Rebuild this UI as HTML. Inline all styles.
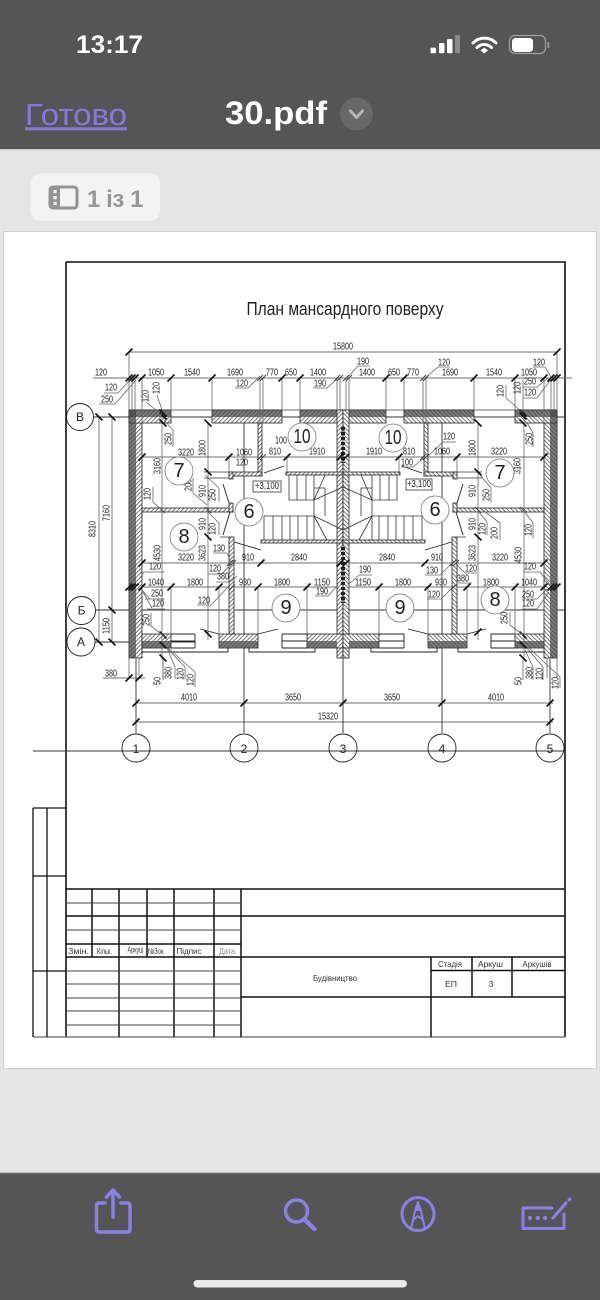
<!DOCTYPE html>
<html><head><meta charset="utf-8"><title>30.pdf</title>
<style>
html,body{margin:0;padding:0;background:#e5e5e5}
svg{display:block}
text{font-family:"Liberation Sans",sans-serif}
.d text{font-size:10px;fill:#222;text-anchor:middle;dominant-baseline:central}
.n text{font-size:20px;fill:#222;text-anchor:middle;dominant-baseline:central}
.a text{font-size:12px;fill:#222;text-anchor:middle;dominant-baseline:central}
.s text{font-size:8.5px;fill:#333;text-anchor:middle;dominant-baseline:central}
.plan{filter:blur(.3px)}
</style></head><body>
<svg width="600" height="1300" viewBox="0 0 600 1300" xmlns="http://www.w3.org/2000/svg">
<defs>
<pattern id="h" width="3" height="3" patternUnits="userSpaceOnUse" patternTransform="rotate(45)">
<rect width="3" height="3" fill="#fff"/><rect width="1" height="3" fill="#777"/></pattern>
<g id="half">
 <g fill="url(#h)" stroke="#222" stroke-width=".8">
  <rect x="129" y="410" width="13" height="248"/>
  <rect x="129" y="410" width="42" height="13"/>
  <rect x="212" y="410" width="70" height="13"/>
  <rect x="300" y="410" width="43" height="13"/>
  <rect x="337" y="410" width="6" height="237"/>
  <rect x="337" y="647" width="6" height="11"/>
  <rect x="142" y="634" width="29" height="14"/>
  <rect x="219" y="634" width="39" height="14"/>
  <rect x="307" y="634" width="36" height="14"/>
  <rect x="142" y="508" width="91" height="4"/>
  <rect x="258" y="423" width="4" height="53"/>
  <rect x="229" y="472" width="33" height="4"/>
  <rect x="229" y="472" width="4" height="7"/>
  <rect x="229" y="503" width="4" height="9"/>
  <rect x="229" y="537" width="5" height="97"/>
  <rect x="261" y="540" width="82" height="3"/>
  <rect x="286" y="472" width="57" height="3"/>
 </g>
 <g fill="#444"><rect x="129" y="410" width="7" height="248" fill-opacity=".7"/>
  <rect x="129" y="410" width="42" height="7" fill-opacity=".7"/>
  <rect x="212" y="410" width="70" height="7" fill-opacity=".7"/>
  <rect x="300" y="410" width="37" height="7" fill-opacity=".7"/>
  <rect x="142" y="641" width="29" height="7" fill-opacity=".7"/>
  <rect x="219" y="641" width="39" height="7" fill-opacity=".7"/>
  <rect x="307" y="641" width="30" height="7" fill-opacity=".7"/>
 </g>
 <path fill="none" stroke="#222" stroke-width=".9" d="M171 634H195M171 641H195M171 648H195M195 634V648M282 634V648M282 634H307M282 641H307M282 648H307M141 652H228V648M249 648V652H315V648M264 473L284 466M223 484L229 503M230 512L223 535M234 542L261 550M258 634L278 629M200 629L219 634"/>
 <path fill="none" stroke="#333" stroke-width=".8" d="M289 475V500H314M297 475V500M306 475V500M314 475V500M325 475L314 500L343 487M314 488H325V516M314 500V516M264 516H314V540M264 516V540M273 516V540M282 516V540M290 516V540M298 516V540M307 516V540M314 516L327 540M314 516L343 530M204 472H229M204 478H229M220 537H230"/>
 <path fill="none" stroke="#666" stroke-width=".8" d="M129 352V410M129 378V410M132 378V410M135 378V410M142 378V423M171 378V410M212 378V410M260 378V423M263 378V423M282 378V410M300 378V410M337 378V410M340 378V410M229 457V472M287 457V472M171 587V634M219 587V634M258 587V634M307 587V634M162 410V660M208 423V640M129 658V678M139 658V678M163 660V680"/>
 <path fill="none" stroke="#222" stroke-width="4" stroke-dasharray="3 2" d="M343 427V463M343 547V603" />
</g>
</defs>

<rect width="600" height="1300" fill="#e5e5e5"/>
<rect width="600" height="149" fill="#555"/>
<rect y="149" width="600" height="1.5" fill="#cfcfcf"/>
<rect y="1173" width="600" height="127" fill="#555"/>
<rect y="1172" width="600" height="1.2" fill="#bbb"/>
<rect x="3" y="231" width="594" height="838" fill="#d0d0d0"/>
<rect x="4" y="232" width="592" height="836" fill="#fff"/>

<!-- status bar -->
<text x="76" y="53" font-size="25" font-weight="bold" fill="#fff" textLength="67" lengthAdjust="spacingAndGlyphs">13:17</text>
<g fill="#fff"><rect x="430.5" y="47.6" width="5.5" height="5.7" rx="1.2"/><rect x="439" y="43" width="5.5" height="10.3" rx="1.2"/><rect x="447" y="39" width="5.5" height="14.3" rx="1.2"/></g>
<rect x="455" y="35" width="5" height="18.3" rx="1.2" fill="#8a8a8a"/>
<g fill="none" stroke="#fff" stroke-width="3" stroke-linecap="round"><path d="M473 43C479 36.5 490 36.5 496 43"/><path d="M477 47.500C481 43.500 487 43.500 491.500 47.500"/></g>
<path d="M480.500 50.200L484.200 47.800L488 50.200L484.200 53.600Z" fill="#fff"/>
<rect x="509.5" y="35.5" width="36" height="18" rx="5.5" fill="none" stroke="#a0a0a0" stroke-width="1.2"/>
<rect x="512" y="38" width="21" height="14" rx="3.5" fill="#fff"/>
<rect x="547.5" y="42" width="1.6" height="6" rx=".8" fill="#a0a0a0"/>

<!-- nav -->
<text x="25" y="125" font-size="31" fill="#8679dc" textLength="102" lengthAdjust="spacingAndGlyphs">Готово</text>
<rect x="25" y="127.3" width="102" height="3" fill="#8679dc"/>
<text x="225" y="124" font-size="32" font-weight="bold" fill="#fff" textLength="102" lengthAdjust="spacingAndGlyphs">30.pdf</text>
<circle cx="356.5" cy="114" r="16.5" fill="#686868"/>
<path d="M350.5 111L356.5 117.5L362.5 111" fill="none" stroke="#b5b5b5" stroke-width="3" stroke-linecap="round" stroke-linejoin="round"/>

<!-- page pill -->
<rect x="30.5" y="173.5" width="129.5" height="47.5" rx="10" fill="#f3f3f3"/>
<rect x="50" y="187" width="27" height="21" rx="3" fill="none" stroke="#939393" stroke-width="3"/>
<rect x="50" y="187" width="10" height="21" fill="#939393"/>
<g fill="#f3f3f3"><rect x="53.5" y="190" width="3.2" height="3.2"/><rect x="53.5" y="196" width="3.2" height="3.2"/><rect x="53.5" y="202" width="3.2" height="3.2"/></g>
<text x="87" y="207" font-size="24" font-weight="bold" fill="#979797" textLength="56.5" lengthAdjust="spacing">1 із 1</text>

<g class="plan">
<!-- frame -->
<path fill="none" stroke="#111" stroke-width="1.6" d="M66 262H565V1037M66 262V1037"/>
<path fill="none" stroke="#666" stroke-width="1.2" d="M33 1037H565"/>
<path fill="none" stroke="#111" stroke-width="1.3" d="M33 808H66M33 876H66M33 971H66M33 808V1037M47 808V1037"/>
<!-- title block -->
<path fill="none" stroke="#111" stroke-width="1.5" d="M66 889H565M66 916H565M66 944H241M66 957H565M241 997H565M241 889V1037M92 889V957M119 889V1037M147 889V957M174 889V1037M214 889V1037M431 957V1037M472 957V997M512 957V997M431 970.5H565"/>
<path fill="none" stroke="#444" stroke-width=".9" d="M66 903H241M66 930H241M66 971H241M66 984H241M66 998H241M66 1011H241M66 1025H241"/>
<g class="s">
<text x="78.500" y="951" textLength="21" lengthAdjust="spacingAndGlyphs">Змін.</text>
<text x="104.500" y="951" textLength="15" lengthAdjust="spacingAndGlyphs">Кільк.</text>
<text x="135.500" y="949.500" textLength="16" lengthAdjust="spacingAndGlyphs" font-size="7.500">Аркуш</text>
<text x="156.500" y="951" textLength="17" lengthAdjust="spacingAndGlyphs">№Зок.</text>
<text x="189" y="951" textLength="25" lengthAdjust="spacingAndGlyphs">Підпис</text>
<text x="227" y="951" textLength="16" lengthAdjust="spacingAndGlyphs" style="fill:#888">Дата</text>
<text x="335" y="978" textLength="44" lengthAdjust="spacingAndGlyphs">Будівництво</text>
<text x="450" y="964" textLength="24" lengthAdjust="spacingAndGlyphs">Стадія</text>
<text x="490.500" y="964" textLength="25" lengthAdjust="spacingAndGlyphs">Аркуш</text>
<text x="537" y="964" textLength="29" lengthAdjust="spacingAndGlyphs">Аркушів</text>
<text x="451" y="984" textLength="12" lengthAdjust="spacingAndGlyphs">ЕП</text>
<text x="491" y="984">3</text>
</g>

<text x="345" y="315" font-size="18" fill="#222" text-anchor="middle" textLength="197" lengthAdjust="spacingAndGlyphs">План мансардного поверху</text>

<!-- dimension + axis lines -->
<path fill="none" stroke="#6f6f6f" stroke-width=".9" d="M129 352H557M93 378H572M142 457H544M142 563H544M129 587H557M136 703H553M136 722H553M99 417V642M112 417V642M103 678H145M129 410H557"/>
<path fill="none" stroke="#333" stroke-width=".9" d="M94 417H565M95 610H565M95 642H195M33 751H565M136 659V733M244 423V733M343 658V733M442 423V733M550 659V733"/>
<use href="#half"/>
<use href="#half" transform="matrix(-1 0 0 1 686 0)"/>

<!-- ticks -->
<path fill="none" stroke="#111" stroke-width="1.6" d="M129 352m-3.500 3.500l7-7M557 352m-3.500 3.500l7-7
M129 378m-3.500 3.500l7-7M132 378m-3.500 3.500l7-7M135 378m-3.500 3.500l7-7M142 378m-3.500 3.500l7-7M171 378m-3.500 3.500l7-7M212 378m-3.500 3.500l7-7M282 378m-3.500 3.500l7-7M300 378m-3.500 3.500l7-7M386 378m-3.500 3.500l7-7M404 378m-3.500 3.500l7-7M474 378m-3.500 3.500l7-7M515 378m-3.500 3.500l7-7M544 378m-3.500 3.500l7-7M551 378m-3.500 3.500l7-7M554 378m-3.500 3.500l7-7M557 378m-3.500 3.500l7-7
M142 457m-3.500 3.500l7-7M229 457m-3.500 3.500l7-7M287 457m-3.500 3.500l7-7M340 457m-3.500 3.500l7-7M346 457m-3.500 3.500l7-7M399 457m-3.500 3.500l7-7M457 457m-3.500 3.500l7-7M544 457m-3.500 3.500l7-7
M142 563m-3.500 3.500l7-7M261 563m-3.500 3.500l7-7M340 563m-3.500 3.500l7-7M346 563m-3.500 3.500l7-7M425 563m-3.500 3.500l7-7M544 563m-3.500 3.500l7-7
M129 587m-3.500 3.500l7-7M132 587m-3.500 3.500l7-7M135 587m-3.500 3.500l7-7M142 587m-3.500 3.500l7-7M171 587m-3.500 3.500l7-7M219 587m-3.500 3.500l7-7M258 587m-3.500 3.500l7-7M307 587m-3.500 3.500l7-7M379 587m-3.500 3.500l7-7M428 587m-3.500 3.500l7-7M467 587m-3.500 3.500l7-7M515 587m-3.500 3.500l7-7M544 587m-3.500 3.500l7-7M551 587m-3.500 3.500l7-7M554 587m-3.500 3.500l7-7M557 587m-3.500 3.500l7-7
M136 703m-3.500 3.500l7-7M244 703m-3.500 3.500l7-7M343 703m-3.500 3.500l7-7M442 703m-3.500 3.500l7-7M550 703m-3.500 3.500l7-7M136 722m-3.500 3.500l7-7M550 722m-3.500 3.500l7-7M129 678m-3.500 3.500l7-7M139 678m-3.500 3.500l7-7
M99 417m-3.500-3.500l7 7M112 417m-3.500-3.500l7 7M112 610m-3.500-3.500l7 7M99 642m-3.500-3.500l7 7M112 642m-3.500-3.500l7 7
M163 413m-3.500-3.500l7 7M163 416m-3.500-3.500l7 7M163 423m-3.500-3.500l7 7M163 635m-3.500-3.500l7 7M163 645m-3.500-3.500l7 7M163 658m-3.500-3.500l7 7
M208 423m-3.500-3.500l7 7M208 472m-3.500-3.500l7 7M208 537m-3.500-3.500l7 7M208 634m-3.500-3.500l7 7
M523 413m-3.500-3.500l7 7M523 416m-3.500-3.500l7 7M523 423m-3.500-3.500l7 7M523 635m-3.500-3.500l7 7M523 645m-3.500-3.500l7 7M523 658m-3.500-3.500l7 7
M478 423m-3.500-3.500l7 7M478 472m-3.500-3.500l7 7M478 537m-3.500-3.500l7 7M478 632m-3.500 3.500l7-7"/>
<path fill="none" stroke="#444" stroke-width="1" d="M260 378m-3 3l6-6M263 378m-3 3l6-6M337 378m-3 3l6-6M340 378m-3 3l6-6M346 378m-3 3l6-6M349 378m-3 3l6-6M423 378m-3 3l6-6M426 378m-3 3l6-6M260 457m-3 3l6-6M263 457m-3 3l6-6M423 457m-3 3l6-6M426 457m-3 3l6-6M230 563m-3 3l6-6M233 563m-3 3l6-6M453 563m-3 3l6-6M456 563m-3 3l6-6M232 587m-3 3l6-6M454 587m-3 3l6-6M162 510m-3-3l6 6M208 510m-3-3l6 6M478 510m-3-3l6 6M523 510m-3-3l6 6"/>

<!-- leaders -->
<path fill="none" stroke="#666" stroke-width=".8" d="M104 393H118L130 380M99 404H115L136 380M235 388H248L260 376M313 388H327L338 378M146 402L162 415M157 395L162 410M164 420L173 430V447M153 487V502L162 510M193 478V493L207 505M205 475L219 488V502M208 512L219 523V535M213 553H227L231 563M208 574H222L231 564M216 582H230L237 576M144 572H165M144 572L140 578M145 599H165M150 599L142 590M147 609H165M143 592L152 608M151 613V626L165 637M197 605H211L230 585M315 596H328L338 585M167 648L175 667V679M167 648L185 667V679M168 648L195 672V687M163 660V680
M533 367H545L551 377M438 367H450M438 367L425 378M358 366H370M358 366L347 378M523 387H537L548 378M523 398H537L552 378M506 385V398L522 412M523 380V410M527 423L533 433V447M443 442H456M443 442L427 457M401 467H413L425 457M491 502V488L480 475M500 540V523L480 508M487 535V522L479 512M533 538V523L522 508M523 572H540L550 585M522 599H537L547 589M522 609H537L549 592M510 612V625L523 635M425 575H440L452 563M465 573H477M465 573L455 563M427 599H441L455 585M359 575H372M359 575L348 585M525 650L533 667V680M527 648L543 667V680M528 647L560 677V688M458 583H472"/>

<!-- +3,100 boxes -->
<rect x="253" y="481" width="28" height="11" fill="#fff" stroke="#333" stroke-width=".8"/>
<rect x="406" y="479" width="26" height="11" fill="#fff" stroke="#333" stroke-width=".8"/>

<!-- dimension labels -->
<g class="d">
<text x="343" y="347" textLength="20" lengthAdjust="spacingAndGlyphs">15800</text>
<text x="101" y="373" textLength="12" lengthAdjust="spacingAndGlyphs">120</text>
<text x="156" y="373" textLength="16" lengthAdjust="spacingAndGlyphs">1050</text>
<text x="192" y="373" textLength="16" lengthAdjust="spacingAndGlyphs">1540</text>
<text x="235" y="373" textLength="16" lengthAdjust="spacingAndGlyphs">1690</text>
<text x="272" y="373" textLength="12" lengthAdjust="spacingAndGlyphs">770</text>
<text x="291" y="373" textLength="12" lengthAdjust="spacingAndGlyphs">650</text>
<text x="318" y="373" textLength="16" lengthAdjust="spacingAndGlyphs">1400</text>
<text x="320" y="384" textLength="12" lengthAdjust="spacingAndGlyphs">190</text>
<text x="111" y="388" textLength="12" lengthAdjust="spacingAndGlyphs">120</text>
<text x="107" y="400" textLength="12" lengthAdjust="spacingAndGlyphs">250</text>
<text x="242" y="384" textLength="12" lengthAdjust="spacingAndGlyphs">120</text>
<text x="186" y="453" textLength="16" lengthAdjust="spacingAndGlyphs">3220</text>
<text x="244" y="453" textLength="16" lengthAdjust="spacingAndGlyphs">1060</text>
<text x="242" y="463" textLength="12" lengthAdjust="spacingAndGlyphs">120</text>
<text x="275" y="452" textLength="12" lengthAdjust="spacingAndGlyphs">810</text>
<text x="317" y="452" textLength="16" lengthAdjust="spacingAndGlyphs">1910</text>
<text x="281" y="441" textLength="12" lengthAdjust="spacingAndGlyphs">100</text>
<text x="267" y="486.500" textLength="24" lengthAdjust="spacingAndGlyphs">+3,100</text>
<text x="219" y="549" textLength="12" lengthAdjust="spacingAndGlyphs">130</text>
<text x="186" y="558" textLength="16" lengthAdjust="spacingAndGlyphs">3220</text>
<text x="248" y="558" textLength="12" lengthAdjust="spacingAndGlyphs">910</text>
<text x="299" y="558" textLength="16" lengthAdjust="spacingAndGlyphs">2840</text>
<text x="155" y="567" textLength="12" lengthAdjust="spacingAndGlyphs">120</text>
<text x="215" y="569" textLength="12" lengthAdjust="spacingAndGlyphs">120</text>
<text x="223" y="577" textLength="12" lengthAdjust="spacingAndGlyphs">380</text>
<text x="156" y="583" textLength="16" lengthAdjust="spacingAndGlyphs">1040</text>
<text x="195" y="583" textLength="16" lengthAdjust="spacingAndGlyphs">1800</text>
<text x="245" y="583" textLength="12" lengthAdjust="spacingAndGlyphs">930</text>
<text x="282" y="583" textLength="16" lengthAdjust="spacingAndGlyphs">1800</text>
<text x="322" y="583" textLength="16" lengthAdjust="spacingAndGlyphs">1150</text>
<text x="322" y="592" textLength="12" lengthAdjust="spacingAndGlyphs">190</text>
<text x="157" y="594" textLength="12" lengthAdjust="spacingAndGlyphs">250</text>
<text x="158" y="604" textLength="12" lengthAdjust="spacingAndGlyphs">120</text>
<text x="204" y="601" textLength="12" lengthAdjust="spacingAndGlyphs">120</text>
<text x="111" y="674" textLength="12" lengthAdjust="spacingAndGlyphs">380</text>
<text x="189" y="698" textLength="16" lengthAdjust="spacingAndGlyphs">4010</text>
<text x="293" y="698" textLength="16" lengthAdjust="spacingAndGlyphs">3650</text>
<text x="328" y="717" textLength="20" lengthAdjust="spacingAndGlyphs">15320</text>

<text x="363" y="362" textLength="12" lengthAdjust="spacingAndGlyphs">190</text>
<text x="444" y="363" textLength="12" lengthAdjust="spacingAndGlyphs">120</text>
<text x="539" y="363" textLength="12" lengthAdjust="spacingAndGlyphs">120</text>
<text x="367" y="373" textLength="16" lengthAdjust="spacingAndGlyphs">1400</text>
<text x="394" y="373" textLength="12" lengthAdjust="spacingAndGlyphs">650</text>
<text x="413" y="373" textLength="12" lengthAdjust="spacingAndGlyphs">770</text>
<text x="450" y="373" textLength="16" lengthAdjust="spacingAndGlyphs">1690</text>
<text x="494" y="373" textLength="16" lengthAdjust="spacingAndGlyphs">1540</text>
<text x="529" y="373" textLength="16" lengthAdjust="spacingAndGlyphs">1050</text>
<text x="530" y="382" textLength="12" lengthAdjust="spacingAndGlyphs">250</text>
<text x="530" y="393" textLength="12" lengthAdjust="spacingAndGlyphs">120</text>
<text x="374" y="452" textLength="16" lengthAdjust="spacingAndGlyphs">1910</text>
<text x="409" y="452" textLength="12" lengthAdjust="spacingAndGlyphs">810</text>
<text x="442" y="452" textLength="16" lengthAdjust="spacingAndGlyphs">1060</text>
<text x="499" y="452" textLength="16" lengthAdjust="spacingAndGlyphs">3220</text>
<text x="449" y="437" textLength="12" lengthAdjust="spacingAndGlyphs">120</text>
<text x="407" y="463" textLength="12" lengthAdjust="spacingAndGlyphs">100</text>
<text x="419" y="484.500" textLength="24" lengthAdjust="spacingAndGlyphs">+3,100</text>
<text x="387" y="558" textLength="16" lengthAdjust="spacingAndGlyphs">2840</text>
<text x="437" y="558" textLength="12" lengthAdjust="spacingAndGlyphs">910</text>
<text x="500" y="558" textLength="16" lengthAdjust="spacingAndGlyphs">3220</text>
<text x="432" y="571" textLength="12" lengthAdjust="spacingAndGlyphs">130</text>
<text x="471" y="569" textLength="12" lengthAdjust="spacingAndGlyphs">120</text>
<text x="463" y="579" textLength="12" lengthAdjust="spacingAndGlyphs">380</text>
<text x="365" y="570" textLength="12" lengthAdjust="spacingAndGlyphs">190</text>
<text x="363" y="583" textLength="16" lengthAdjust="spacingAndGlyphs">1150</text>
<text x="403" y="583" textLength="16" lengthAdjust="spacingAndGlyphs">1800</text>
<text x="441" y="583" textLength="12" lengthAdjust="spacingAndGlyphs">930</text>
<text x="491" y="583" textLength="16" lengthAdjust="spacingAndGlyphs">1800</text>
<text x="529" y="583" textLength="16" lengthAdjust="spacingAndGlyphs">1040</text>
<text x="530" y="567" textLength="12" lengthAdjust="spacingAndGlyphs">120</text>
<text x="434" y="595" textLength="12" lengthAdjust="spacingAndGlyphs">120</text>
<text x="528" y="595" textLength="12" lengthAdjust="spacingAndGlyphs">250</text>
<text x="528" y="604" textLength="12" lengthAdjust="spacingAndGlyphs">120</text>
<text x="496" y="698" textLength="16" lengthAdjust="spacingAndGlyphs">4010</text>
<text x="392" y="698" textLength="16" lengthAdjust="spacingAndGlyphs">3650</text>

<text transform="translate(146 396) rotate(-90)" textLength="12" lengthAdjust="spacingAndGlyphs">120</text>
<text transform="translate(157 388) rotate(-90)" textLength="12" lengthAdjust="spacingAndGlyphs">120</text>
<text transform="translate(169 439) rotate(-90)" textLength="12" lengthAdjust="spacingAndGlyphs">250</text>
<text transform="translate(158 466) rotate(-90)" textLength="16" lengthAdjust="spacingAndGlyphs">3160</text>
<text transform="translate(203 448) rotate(-90)" textLength="16" lengthAdjust="spacingAndGlyphs">1800</text>
<text transform="translate(189 485) rotate(-90)" textLength="12" lengthAdjust="spacingAndGlyphs">200</text>
<text transform="translate(203 491) rotate(-90)" textLength="12" lengthAdjust="spacingAndGlyphs">910</text>
<text transform="translate(213 495) rotate(-90)" textLength="12" lengthAdjust="spacingAndGlyphs">250</text>
<text transform="translate(148 494) rotate(-90)" textLength="12" lengthAdjust="spacingAndGlyphs">120</text>
<text transform="translate(203 524) rotate(-90)" textLength="12" lengthAdjust="spacingAndGlyphs">910</text>
<text transform="translate(213 529) rotate(-90)" textLength="12" lengthAdjust="spacingAndGlyphs">120</text>
<text transform="translate(107 513) rotate(-90)" textLength="16" lengthAdjust="spacingAndGlyphs">7160</text>
<text transform="translate(93 529) rotate(-90)" textLength="16" lengthAdjust="spacingAndGlyphs">8310</text>
<text transform="translate(158 553) rotate(-90)" textLength="16" lengthAdjust="spacingAndGlyphs">4530</text>
<text transform="translate(203 553) rotate(-90)" textLength="16" lengthAdjust="spacingAndGlyphs">3623</text>
<text transform="translate(147 620) rotate(-90)" textLength="12" lengthAdjust="spacingAndGlyphs">250</text>
<text transform="translate(107 626) rotate(-90)" textLength="16" lengthAdjust="spacingAndGlyphs">1150</text>
<text transform="translate(158 681) rotate(-90)" textLength="8" lengthAdjust="spacingAndGlyphs">50</text>
<text transform="translate(169 673) rotate(-90)" textLength="12" lengthAdjust="spacingAndGlyphs">380</text>
<text transform="translate(181 674) rotate(-90)" textLength="12" lengthAdjust="spacingAndGlyphs">120</text>
<text transform="translate(191 680) rotate(-90)" textLength="12" lengthAdjust="spacingAndGlyphs">120</text>

<text transform="translate(501 391) rotate(-90)" textLength="12" lengthAdjust="spacingAndGlyphs">120</text>
<text transform="translate(518 388) rotate(-90)" textLength="12" lengthAdjust="spacingAndGlyphs">120</text>
<text transform="translate(530 439) rotate(-90)" textLength="12" lengthAdjust="spacingAndGlyphs">250</text>
<text transform="translate(518 466) rotate(-90)" textLength="16" lengthAdjust="spacingAndGlyphs">3160</text>
<text transform="translate(473 448) rotate(-90)" textLength="16" lengthAdjust="spacingAndGlyphs">1800</text>
<text transform="translate(473 491) rotate(-90)" textLength="12" lengthAdjust="spacingAndGlyphs">910</text>
<text transform="translate(487 495) rotate(-90)" textLength="12" lengthAdjust="spacingAndGlyphs">250</text>
<text transform="translate(473 524) rotate(-90)" textLength="12" lengthAdjust="spacingAndGlyphs">910</text>
<text transform="translate(483 529) rotate(-90)" textLength="12" lengthAdjust="spacingAndGlyphs">120</text>
<text transform="translate(495 533) rotate(-90)" textLength="12" lengthAdjust="spacingAndGlyphs">200</text>
<text transform="translate(529 530) rotate(-90)" textLength="12" lengthAdjust="spacingAndGlyphs">120</text>
<text transform="translate(473 553) rotate(-90)" textLength="16" lengthAdjust="spacingAndGlyphs">3623</text>
<text transform="translate(519 555) rotate(-90)" textLength="16" lengthAdjust="spacingAndGlyphs">4530</text>
<text transform="translate(505 618) rotate(-90)" textLength="12" lengthAdjust="spacingAndGlyphs">250</text>
<text transform="translate(519 681) rotate(-90)" textLength="8" lengthAdjust="spacingAndGlyphs">50</text>
<text transform="translate(530 673) rotate(-90)" textLength="12" lengthAdjust="spacingAndGlyphs">380</text>
<text transform="translate(540 674) rotate(-90)" textLength="12" lengthAdjust="spacingAndGlyphs">120</text>
<text transform="translate(556 683) rotate(-90)" textLength="12" lengthAdjust="spacingAndGlyphs">120</text>
</g>

<!-- room marks -->
<g fill="#fff" stroke="#777" stroke-width=".8">
<circle cx="302" cy="437" r="14"/><circle cx="179" cy="471" r="14"/><circle cx="249" cy="512" r="14"/><circle cx="184" cy="537" r="14"/><circle cx="286" cy="608" r="14"/>
<circle cx="393" cy="438" r="14"/><circle cx="500" cy="473" r="14"/><circle cx="435" cy="510" r="14"/><circle cx="495" cy="600" r="14"/><circle cx="400" cy="608" r="14"/>
</g>
<g class="n">
<text x="302" y="437" textLength="17" lengthAdjust="spacingAndGlyphs">10</text><text x="179" y="471">7</text><text x="249" y="512">6</text><text x="184" y="537">8</text><text x="286" y="608">9</text>
<text x="393" y="438" textLength="17" lengthAdjust="spacingAndGlyphs">10</text><text x="500" y="473">7</text><text x="435" y="510">6</text><text x="495" y="600">8</text><text x="400" y="608">9</text>
</g>

<!-- axis marks -->
<g fill="#fff" stroke="#222" stroke-width=".9">
<circle cx="80" cy="417" r="13.500"/><circle cx="81.500" cy="610.500" r="14"/><circle cx="81" cy="642" r="14"/>
<circle cx="136" cy="748" r="14" fill="none"/><circle cx="244" cy="748" r="14" fill="none"/><circle cx="343" cy="748" r="14" fill="none"/><circle cx="442" cy="748" r="14" fill="none"/><circle cx="550" cy="748" r="14" fill="none"/>
</g>
<g class="a">
<text x="80" y="417">В</text><text x="81.500" y="610.500">Б</text><text x="81" y="642">А</text>
<text x="136" y="749">1</text><text x="244" y="749">2</text><text x="343" y="749">3</text><text x="442" y="749">4</text><text x="550" y="749">5</text>
</g>
</g>

<!-- bottom toolbar -->
<g fill="none" stroke="#8b80e6" stroke-linecap="round" stroke-linejoin="round">
<path d="M105 1203H99Q96.500 1203 96.500 1206V1229.500Q96.500 1232 99 1232H127.500Q130 1232 130 1229.500V1206Q130 1203 127.500 1203H121" stroke-width="3.500"/>
<path d="M113 1217V1190M106.500 1197L113 1190L119.500 1197" stroke-width="3.500"/>
<circle cx="296.500" cy="1211" r="11" stroke-width="3.500"/>
<path d="M305 1220L314.500 1229" stroke-width="4.500"/>
<ellipse cx="418" cy="1214" rx="16" ry="16.500" stroke-width="3"/>
<path d="M411 1229L415 1211L418 1202L421 1211L425 1229M413 1220L418 1216L423 1220" stroke-width="2"/>
<path d="M552 1208H523V1228.500H564V1214" stroke-width="3"/>
<path d="M553 1218L566 1203" stroke-width="3.200"/>
<path d="M569 1200L570 1199" stroke-width="3"/>
</g>
<path d="M415 1211L418 1202L421 1211Z" fill="#8b80e6"/>
<g fill="#8b80e6"><circle cx="530" cy="1218" r="2.200"/><circle cx="537.700" cy="1218" r="2.200"/><circle cx="545" cy="1218" r="2.200"/></g>
<rect x="193.500" y="1280" width="213.500" height="7.500" rx="3.700" fill="#e8e8e8"/>
</svg>
</body></html>
